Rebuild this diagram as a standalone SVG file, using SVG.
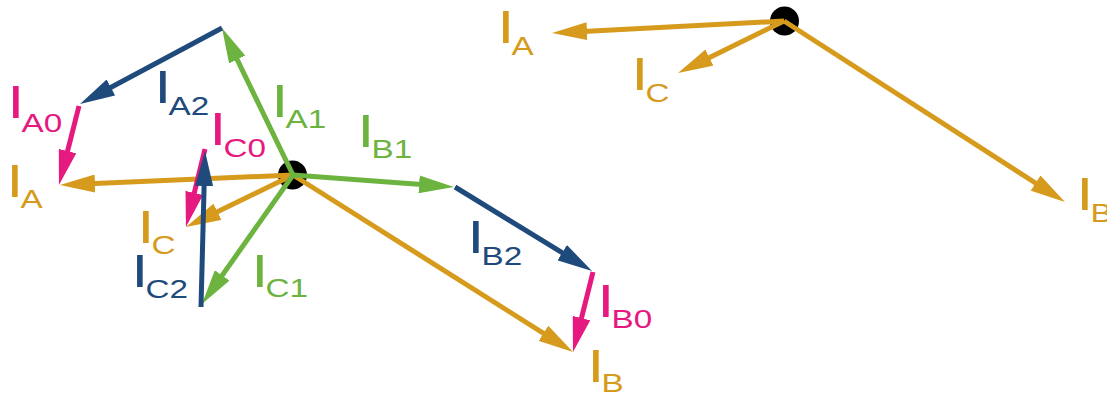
<svg xmlns="http://www.w3.org/2000/svg" width="1107" height="398" viewBox="0 0 1107 398">
<style>
.v{fill:none;stroke-width:5;stroke-linecap:butt}
.gold{stroke:#D69A1C}.green{stroke:#6DB33F}.blue{stroke:#1F4A7C}.pink{stroke:#E5197F}
.lbl{font-family:"Liberation Sans",Arial,sans-serif;font-size:47px}
.lbl .s{font-size:26px}
.tg{fill:#D69A1C}.tn{fill:#6DB33F}.tb{fill:#1F4A7C}.tp{fill:#E5197F}
.dot{fill:#000}
</style>
<defs>
<marker id="mGold" markerUnits="userSpaceOnUse" markerWidth="35" markerHeight="18" viewBox="0 0 35 18" refX="23" refY="9" orient="auto"><path d="M0,0 L35,9 L0,18 z" fill="#D69A1C"/></marker>
<marker id="mGreen" markerUnits="userSpaceOnUse" markerWidth="35" markerHeight="18" viewBox="0 0 35 18" refX="23" refY="9" orient="auto"><path d="M0,0 L35,9 L0,18 z" fill="#6DB33F"/></marker>
<marker id="mBlue" markerUnits="userSpaceOnUse" markerWidth="35" markerHeight="18" viewBox="0 0 35 18" refX="23" refY="9" orient="auto"><path d="M0,0 L35,9 L0,18 z" fill="#1F4A7C"/></marker>
<marker id="mPink" markerUnits="userSpaceOnUse" markerWidth="35" markerHeight="18" viewBox="0 0 35 18" refX="23" refY="9" orient="auto"><path d="M0,0 L35,9 L0,18 z" fill="#E5197F"/></marker>
</defs>
<rect width="1107" height="398" fill="#fff"/>
<g id="origin-left"><circle class="dot" cx="292.5" cy="175" r="14.5"/></g>
<g id="origin-right"><circle class="dot" cx="784.5" cy="21" r="14.5"/></g>
<g id="connectors">
<path id="IA" class="v gold" d="M293,175 L72,184.5" marker-end="url(#mGold)"/>
<path id="IB" class="v gold" d="M293,175 L562.9,345.6" marker-end="url(#mGold)"/>
<path id="IC" class="v gold" d="M293,175 L196.8,221.8" marker-end="url(#mGold)"/>
<path id="IA1" class="v green" d="M293,175 L227.2,38.8" marker-end="url(#mGreen)"/>
<path id="IB1" class="v green" d="M293,175 L442,186.1" marker-end="url(#mGreen)"/>
<path id="IC1" class="v green" d="M293,175 L208.9,294.2" marker-end="url(#mGreen)"/>
<path id="IA0" class="v pink" d="M79,106 L61.9,173.4" marker-end="url(#mPink)"/>
<path id="IB0" class="v pink" d="M593,272 L575.9,340.4" marker-end="url(#mPink)"/>
<path id="IC0" class="v pink" d="M205,149 L188.8,215.3" marker-end="url(#mPink)"/>
<path id="IA2" class="v blue" d="M222,28 L90.6,98.3" marker-end="url(#mBlue)"/>
<path id="IB2" class="v blue" d="M455,187 L581.8,264.7" marker-end="url(#mBlue)"/>
<path id="IC2" class="v blue" d="M201,307 L204.7,163" marker-end="url(#mBlue)"/>
<path id="IA-r" class="v gold" d="M784,21 L564,32.4" marker-end="url(#mGold)"/>
<path id="IC-r" class="v gold" d="M784,21 L688.8,67.7" marker-end="url(#mGold)"/>
<path id="IB-r" class="v gold" d="M784,21 L1054.9,195.5" marker-end="url(#mGold)"/>
</g>
<g id="labels">
<text class="lbl tp" transform="translate(7.4,118) scale(1.28,1)">I<tspan class="s" dx="-2" dy="14">A0</tspan></text>
<text class="lbl tb" transform="translate(154.4,103) scale(1.28,1)">I<tspan class="s" dx="-2" dy="12">A2</tspan></text>
<text class="lbl tn" transform="translate(271.4,117) scale(1.28,1)">I<tspan class="s" dx="-2" dy="11">A1</tspan></text>
<text class="lbl tp" transform="translate(209.4,145) scale(1.28,1)">I<tspan class="s" dx="-2" dy="12">C0</tspan></text>
<text class="lbl tg" transform="translate(6.4,197) scale(1.28,1)">I<tspan class="s" dx="-2" dy="11">A</tspan></text>
<text class="lbl tn" transform="translate(357.4,147) scale(1.28,1)">I<tspan class="s" dx="-2" dy="11">B1</tspan></text>
<text class="lbl tg" transform="translate(137.4,243) scale(1.28,1)">I<tspan class="s" dx="-2" dy="11">C</tspan></text>
<text class="lbl tb" transform="translate(131.4,287) scale(1.28,1)">I<tspan class="s" dx="-2" dy="11">C2</tspan></text>
<text class="lbl tn" transform="translate(251.4,287) scale(1.28,1)">I<tspan class="s" dx="-2" dy="10">C1</tspan></text>
<text class="lbl tb" transform="translate(467.4,253) scale(1.28,1)">I<tspan class="s" dx="-2" dy="12">B2</tspan></text>
<text class="lbl tp" transform="translate(597.4,317) scale(1.28,1)">I<tspan class="s" dx="-2" dy="11">B0</tspan></text>
<text class="lbl tg" transform="translate(587.4,382) scale(1.28,1)">I<tspan class="s" dx="-2" dy="10">B</tspan></text>
<text class="lbl tg" transform="translate(497.4,43) scale(1.28,1)">I<tspan class="s" dx="-2" dy="12">A</tspan></text>
<text class="lbl tg" transform="translate(631.4,90) scale(1.28,1)">I<tspan class="s" dx="-2" dy="12">C</tspan></text>
<text class="lbl tg" transform="translate(1076.4,210) scale(1.28,1)">I<tspan class="s" dx="-2" dy="12">B</tspan></text>
</g>
</svg>
